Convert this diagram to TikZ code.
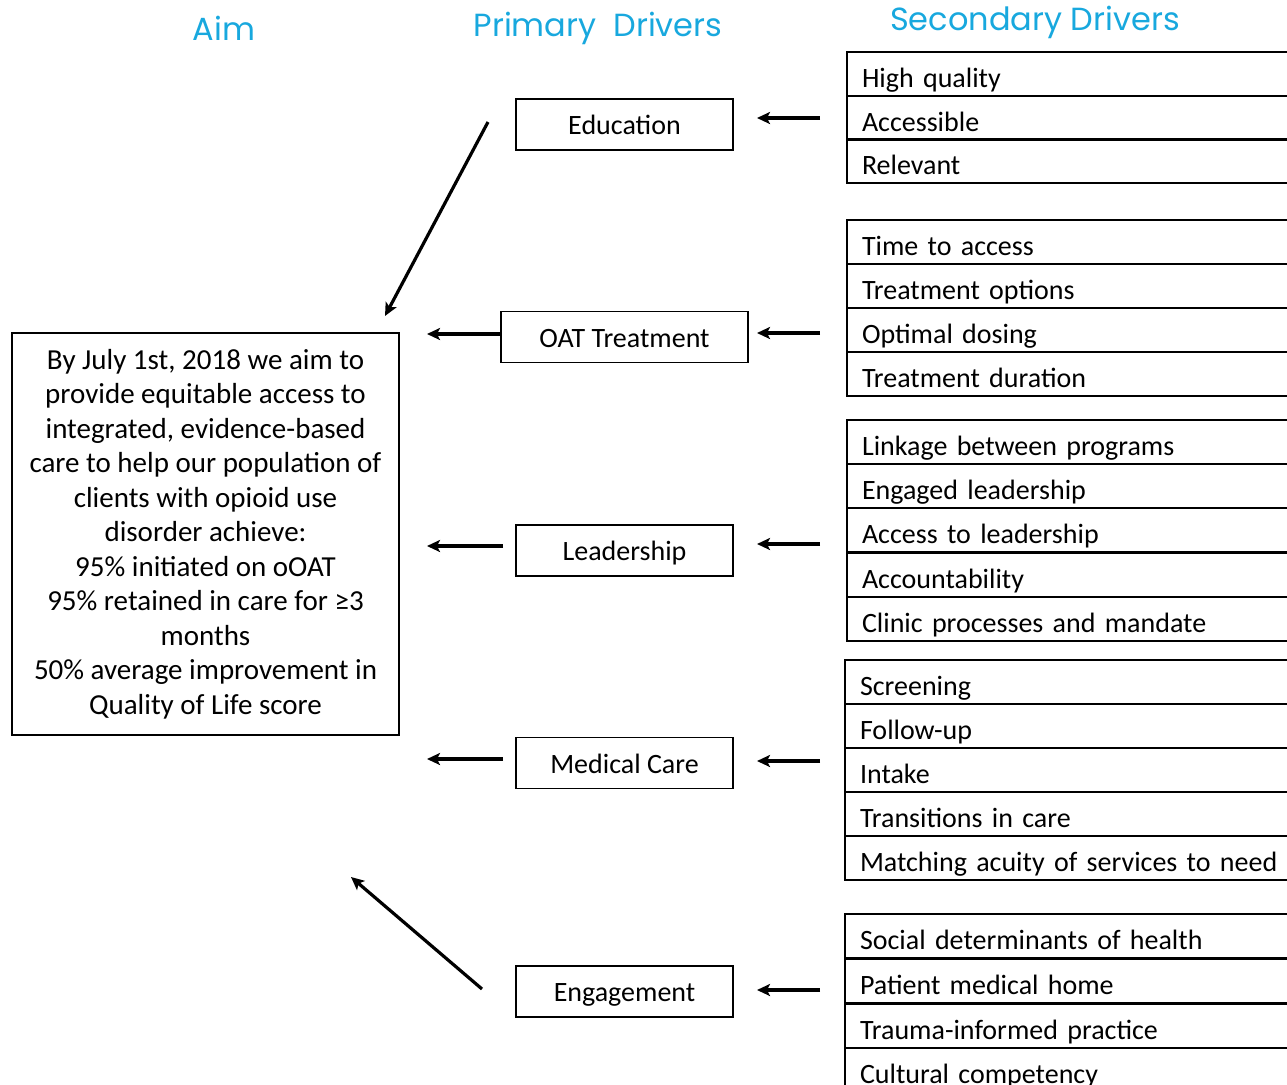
\documentclass[tikz,border=0pt]{standalone}
\usepackage{fontspec}
\setmainfont{Carlito}
\newfontfamily\headfont{Poppins}
\usetikzlibrary{arrows.meta}
\definecolor{headcol}{RGB}{24,168,222}
\begin{document}
\begin{tikzpicture}[x=1bp,y=-1bp,
  every node/.style={font=\fontsize{28bp}{34.5bp}\selectfont},
  head/.style={font=\headfont\fontsize{32bp}{36bp}\selectfont, text=headcol, inner sep=0},
  pbox/.style={draw, line width=1.5bp, minimum width=217bp, minimum height=51bp, inner sep=0,
    text height=24bp, text depth=4bp},
  aimbox/.style={draw, line width=1.5bp, minimum width=387bp, minimum height=402bp, inner sep=0,
    align=center, font=\fontsize{29bp}{34.5bp}\selectfont},
  srow/.style={draw, line width=2bp, anchor=north west, minimum width=460bp, minimum height=44bp,
    inner xsep=14bp, inner ysep=0, text width=430bp, align=left, text height=33bp, text depth=7bp},
  arr/.style={line width=3.2bp, -{Stealth[length=13bp,width=12bp,inset=3bp]}},
]
\useasboundingbox (0,0) rectangle (1287,1085);

% headers
\node[head] (hAim) at (224,28) {Aim};
\node[head] (hPri) at (598,28) {Primary\ \ Drivers};
\node[head] (hSec) at (1035,22) {Secondary Drivers};

% aim
\node[aimbox] (aim) at (205.5,534) {By July 1st, 2018 we aim to\\provide equitable access to\\integrated, evidence-based\\care to help our population of\\clients with opioid use\\disorder achieve:\\95\% initiated on oOAT\\95\% retained in care for ≥3\\months\\50\% average improvement in\\Quality of Life score};

% primary drivers
\node[pbox] (edu) at (624.5,124.5) {Education};
\node[pbox, minimum width=247bp] (oat) at (624.5,337) {OAT Treatment};
\node[pbox] (lead) at (624.5,550.5) {Leadership};
\node[pbox] (med) at (624.5,763) {Medical Care};
\node[pbox] (eng) at (624.5,991.5) {Engagement};

% secondary drivers
\node[srow] (a1) at (846,51) {High quality};
\node[srow] (a2) at (846,95) {Accessible};
\node[srow] (a3) at (846,138) {Relevant};

\node[srow] (b1) at (846,219) {Time to access};
\node[srow] (b2) at (846,263) {Treatment options};
\node[srow] (b3) at (846,307) {Optimal dosing};
\node[srow] (b4) at (846,351) {Treatment duration};

\node[srow] (c1) at (846,419) {Linkage between programs};
\node[srow] (c2) at (846,463) {Engaged leadership};
\node[srow] (c3) at (846,507) {Access to leadership};
\node[srow] (c4) at (846,552) {Accountability};
\node[srow] (c5) at (846,596) {Clinic processes and mandate};

\node[srow] (d1) at (844,659) {Screening};
\node[srow] (d2) at (844,703) {Follow-up};
\node[srow] (d3) at (844,747) {Intake};
\node[srow] (d4) at (844,791) {Transitions in care};
\node[srow] (d5) at (844,835) {Matching acuity of services to need};

\node[srow] (e1) at (844,913) {Social determinants of health};
\node[srow] (e2) at (844,958) {Patient medical home};
\node[srow] (e3) at (844,1003) {Trauma-informed practice};
\node[srow] (e4) at (844,1047) {Cultural competency};

% arrow end points
\coordinate (s1) at (820,118);   \coordinate (t1) at (757,118);
\coordinate (s2) at (820,333);   \coordinate (t2) at (757,333);
\coordinate (s3) at (820,544);   \coordinate (t3) at (757,544);
\coordinate (s4) at (820,761);   \coordinate (t4) at (757,761);
\coordinate (s5) at (820,990);   \coordinate (t5) at (757,990);

\coordinate (eduS) at (488,122); \coordinate (eduT) at (385,316);
\coordinate (oatT) at (427,334);
\coordinate (leadS) at (503,546); \coordinate (leadT) at (427,546);
\coordinate (medS) at (503,759); \coordinate (medT) at (427,759);
\coordinate (engS) at (482,989); \coordinate (engT) at (351,877);

% secondary -> primary
\draw[arr] (s1) -- (t1);
\draw[arr] (s2) -- (t2);
\draw[arr] (s3) -- (t3);
\draw[arr] (s4) -- (t4);
\draw[arr] (s5) -- (t5);

% primary -> aim
\draw[arr] (eduS) -- (eduT);
\draw[arr] (oat.west |- oatT) -- (oatT);
\draw[arr] (leadS) -- (leadT);
\draw[arr] (medS) -- (medT);
\draw[arr] (engS) -- (engT);
\end{tikzpicture}
\end{document}
